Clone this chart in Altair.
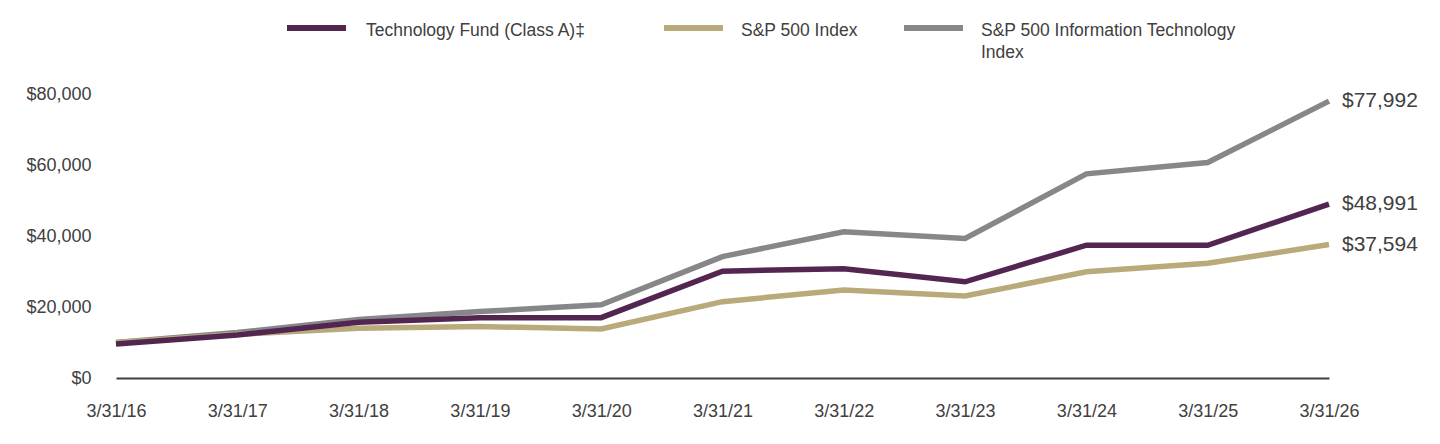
import altair as alt
import pandas as pd

# Growth of a hypothetical $10,000 investment, fiscal year ends
dates = ["3/31/16", "3/31/17", "3/31/18", "3/31/19", "3/31/20", "3/31/21",
         "3/31/22", "3/31/23", "3/31/24", "3/31/25", "3/31/26"]
fund = [9600, 12100, 15700, 17000, 17000, 30100, 30800, 27100, 37400, 37400, 48991]
sp500 = [10000, 12300, 14000, 14500, 13800, 21500, 24800, 23100, 29900, 32300, 37594]
sp_it = [10000, 12800, 16500, 18700, 20600, 34200, 41200, 39300, 57500, 60700, 77992]

series_names = ["S&P 500 Information Technology Index", "S&P 500 Index", "Technology Fund (Class A)‡"]
series_values = [sp_it, sp500, fund]
series_colors = ["#87878A", "#B9AA7B", "#532651"]

rows = []
for order, (name, vals) in enumerate(zip(series_names, series_values)):
    for d, v in zip(dates, vals):
        rows.append({"date": d, "value": v, "series": name, "order": order})
df = pd.DataFrame(rows)
last = df[df["date"] == dates[-1]]

FONT = "Liberation Sans, Arial, sans-serif"
TEXT_COLOR = "#404040"

x_enc = alt.X("date:O", sort=dates,
              scale=alt.Scale(type="point", padding=0),
              axis=alt.Axis(title=None, labelAngle=0, ticks=False, grid=False,
                            domainColor=TEXT_COLOR, domainWidth=2,
                            labelFontSize=18, labelFont=FONT, labelColor=TEXT_COLOR,
                            labelPadding=24))
y_enc = alt.Y("value:Q",
              scale=alt.Scale(domain=[0, 80000], nice=False, zero=True),
              axis=alt.Axis(title=None, values=[0, 20000, 40000, 60000, 80000],
                            format="$,.0f", domain=False, ticks=False, grid=False,
                            labelFontSize=18, labelFont=FONT, labelColor=TEXT_COLOR,
                            labelPadding=25))
color_enc = alt.Color("series:N", scale=alt.Scale(domain=series_names, range=series_colors),
                      legend=None)

lines = alt.Chart(df).mark_line(strokeWidth=5.5, strokeJoin="miter").encode(
    x=x_enc, y=y_enc, color=color_enc, detail="series:N", order="order:Q"
)

end_labels = alt.Chart(last).mark_text(
    align="left", baseline="middle", dx=13, fontSize=21, font=FONT, color=TEXT_COLOR
).encode(
    x=alt.X("date:O", sort=dates), y="value:Q",
    text=alt.Text("value:Q", format="$,.0f")
)

# Legend row above the plot
legend_items = [
    ("Technology Fund (Class A)‡", "#532651", 171, 250),
    ("S&P 500 Index", "#B9AA7B", 548, 625),
    ("S&P 500 Information Technology Index", "#87878A", 788, 865),
]
legend_layers = []
for name, col, sx, tx in legend_items:
    one = alt.Chart(pd.DataFrame({"series": [name]}))
    legend_layers.append(
        one.mark_rule(strokeWidth=6, color=col).encode(
            x=alt.value(sx), x2=alt.value(sx + 59), y=alt.value(-66)
        )
    )
    label = name
    if name.endswith("Technology Index"):
        label = ["S&P 500 Information Technology", "Index"]
    legend_layers.append(
        one.mark_text(align="left", baseline="middle", fontSize=17.5, font=FONT,
                      color=TEXT_COLOR, lineHeight=22).encode(
            x=alt.value(tx), y=alt.value(-63),
            text=alt.value(label)
        )
    )

chart = alt.layer(lines, end_labels, *legend_layers).properties(
    width=1213, height=284,
    autosize=alt.AutoSizeParams(type="none"),
    padding={"left": 116, "top": 94, "right": 111, "bottom": 66},
).configure_view(stroke=None)

chart.save("out.html", embed_options={"renderer": "svg", "actions": False})
